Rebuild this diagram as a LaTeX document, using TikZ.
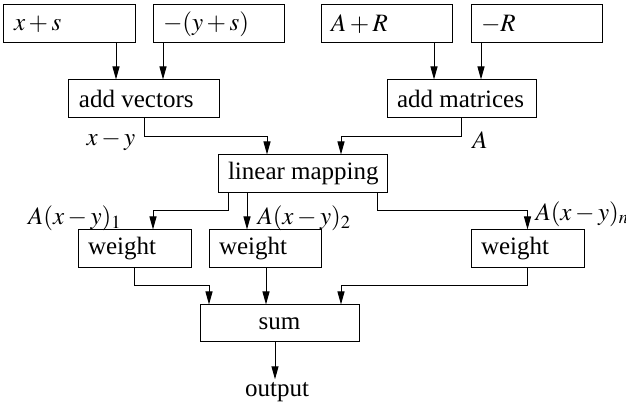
\documentclass[tikz,border=0pt]{standalone}
\usepackage{mathptmx}
\usepackage{fontspec}
\setmainfont{Liberation Serif}
\usetikzlibrary{arrows.meta,calc}
\begin{document}
\begin{tikzpicture}[x=0.4pt,y=-0.4pt,
  box/.style={draw, line width=0.4pt, minimum height=15.2pt, inner xsep=4pt, inner ysep=0pt},
  arr/.style={-{Triangle[length=5.2pt,width=2.8pt]}, line width=0.4pt},
  lbl/.style={inner sep=0pt}]
\useasboundingbox (0,0) rectangle (626,404);
\newcommand{\lbox}[2]{\makebox[#1][l]{#2}}

% inputs
\node[box] (xs) at (69.5,24) {\lbox{44.4pt}{$x+s$}};
\node[box] (ys) at (218.5,24) {\lbox{44.4pt}{$-(y+s)$}};
\node[box] (ar) at (386.5,24) {\lbox{44.4pt}{$A+R$}};
\node[box] (mr) at (536.5,24) {\lbox{44.4pt}{$-R$}};

% processing stages
\node[box] (addv) at (144,99) {\lbox{52pt}{add vectors}};
\node[box] (addm) at (461.5,99) {\lbox{51.6pt}{add matrices}};
\node[box] (lin) at (302.5,174) {\lbox{59.6pt}{linear mapping}};
\node[box] (w1) at (134.5,249) {\lbox{37.2pt}{weight}};
\node[box] (w2) at (265,249) {\lbox{36.8pt}{weight}};
\node[box] (w3) at (527.5,249) {\lbox{37.2pt}{weight}};
\node[box, minimum width=63.6pt, minimum height=14.8pt] (sum) at (279.5,323.5) {sum};
\node[inner sep=1pt] (out) at (277,392) {output};

% tap points on box edges
\coordinate (a1) at ($(xs.south)+(46.5,0)$);
\coordinate (a2) at ($(ys.south)+(-55.5,0)$);
\coordinate (a3) at ($(ar.south)+(47.5,0)$);
\coordinate (a4) at ($(mr.south)+(-55.5,0)$);
\coordinate (b1) at ($(lin.north)+(-35.5,-18)$);
\coordinate (b2) at ($(lin.north)+(38.5,-18)$);
\coordinate (c1) at ($(lin.south)+(-74.5,0)$);
\coordinate (c2) at ($(lin.south)+(-55.5,0)$);
\coordinate (c3) at ($(lin.south)+(74.5,0)$);
\coordinate (d1) at ($(w1.north)+(18.5,-19)$);
\coordinate (e1) at ($(sum.north)+(-70.5,-19)$);
\coordinate (e2) at ($(sum.north)+(-13.5,0)$);
\coordinate (e3) at ($(sum.north)+(61.5,-19)$);
\coordinate (f1) at ($(sum.south)+(-4.5,0)$);

% connectors
\draw[arr] (a1) -- (a1 |- addv.north);
\draw[arr] (a2) -- (a2 |- addv.north);
\draw[arr] (a3) -- (a3 |- addm.north);
\draw[arr] (a4) -- (a4 |- addm.north);
\draw[arr] (addv.south) |- (b1) -- (b1 |- lin.north);
\draw[arr] (addm.south) |- (b2) -- (b2 |- lin.north);
\draw[arr] (c1) |- (d1) -- (d1 |- w1.north);
\draw[arr] (c2) -- (c2 |- w2.north);
\draw[arr] (c3) |- (d1 -| w3.north) -- (w3.north);
\draw[arr] (w1.south) |- (e1) -- (e1 |- sum.north);
\draw[arr] (e2 |- w2.south) -- (e2);
\draw[arr] (w3.south) |- (e3) -- (e3 |- sum.north);
\draw[arr] (f1) -- (f1 |- out.north);

% signal labels
\node[lbl] (lxy) at (111,141) {$x-y$};
\node[lbl] (la) at (480,140) {$A$};
\node[lbl] (l1) at (75,218) {$A(x-y)_1$};
\node[lbl, anchor=west] (l2) at (257,218) {$A(x-y)_2$};
\node[lbl, anchor=west] (ln) at (535,214) {$A(x-y)_n$};
\end{tikzpicture}
\end{document}
